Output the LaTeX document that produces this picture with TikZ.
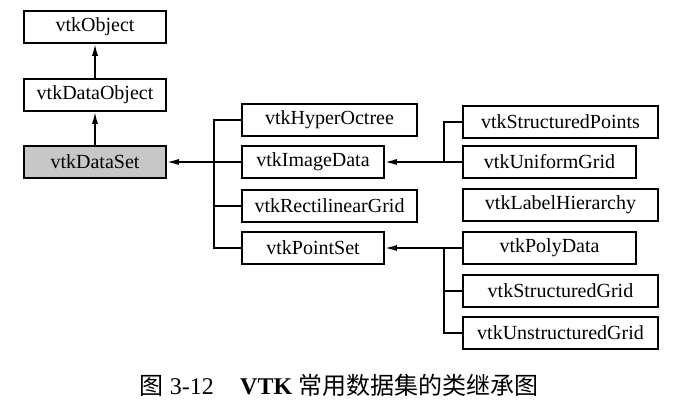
\documentclass[tikz,border=0pt]{standalone}
\usepackage{fontspec}
\setmainfont{Liberation Serif}
\newfontfamily\cjk{Noto Sans CJK SC}
\usetikzlibrary{arrows.meta}

\tikzset{
  cls/.style={draw,line width=1.6pt,minimum height=32pt,inner sep=0pt,
    font=\fontsize{20}{23}\selectfont},
  inh/.style={line width=1.6pt,-{Latex[length=12pt,width=6pt]}},
  br/.style={line width=1.6pt}
}

\begin{document}
\begin{tikzpicture}[x=1pt,y=-1pt]
  \useasboundingbox (0,0) rectangle (690,419);
  % class boxes: name/x/y/width/label
  \foreach \n/\x/\y/\w/\t in {
    obj/95/27/142/vtkObject, dobj/95/95/142/vtkDataObject,
    hoct/329.5/120/175/vtkHyperOctree, img/313/162/142/vtkImageData,
    rect/329.5/206/175/vtkRectilinearGrid, pset/313/248/142/vtkPointSet,
    spts/560.5/122/195/vtkStructuredPoints, ugrid/549.5/162/173/vtkUniformGrid,
    lhier/560.5/205/195/vtkLabelHierarchy, poly/549.5/248/173/vtkPolyData,
    sgrid/560.5/291/195/vtkStructuredGrid, usgrid/560.5/333/195/vtkUnstructuredGrid}{
    \node[cls,minimum width=\w pt] (\n) at (\x,\y) {\t};
  }
  \node[cls,minimum width=142pt,fill=black!22] (dset) at (95,162) {vtkDataSet};

  \draw[inh] (dobj) -- (obj);
  \draw[inh] (dset) -- (dobj);

  % vtkDataSet subclasses
  \coordinate (b1) at (214,162);
  \draw[inh] (b1) -- (dset.east);
  \draw[br] (hoct.west) -| (b1);
  \draw[br] (pset.west) -| (b1);
  \draw[br] (img.west) -- (b1);
  \draw[br] (rect.west) -- (rect.west -| b1);

  % vtkImageData subclasses
  \coordinate (b2) at (444,162);
  \draw[inh] (b2) -- (img.east);
  \draw[br] (spts.west) -| (b2);
  \draw[br] (ugrid.west) -- (b2);

  % vtkPointSet subclasses
  \coordinate (b3) at (444,248);
  \draw[inh] (b3) -- (pset.east);
  \draw[br] (usgrid.west) -| (b3);
  \draw[br] (sgrid.west) -- (sgrid.west -| b3);
  \draw[br] (poly.west) -- (b3);

  \node[font=\fontsize{24}{28}\selectfont] (cap) at (339,385)
    {{\cjk 图} 3-12\hspace{1.1em}\textbf{VTK} {\cjk 常用数据集的类继承图}};
\end{tikzpicture}
\end{document}
